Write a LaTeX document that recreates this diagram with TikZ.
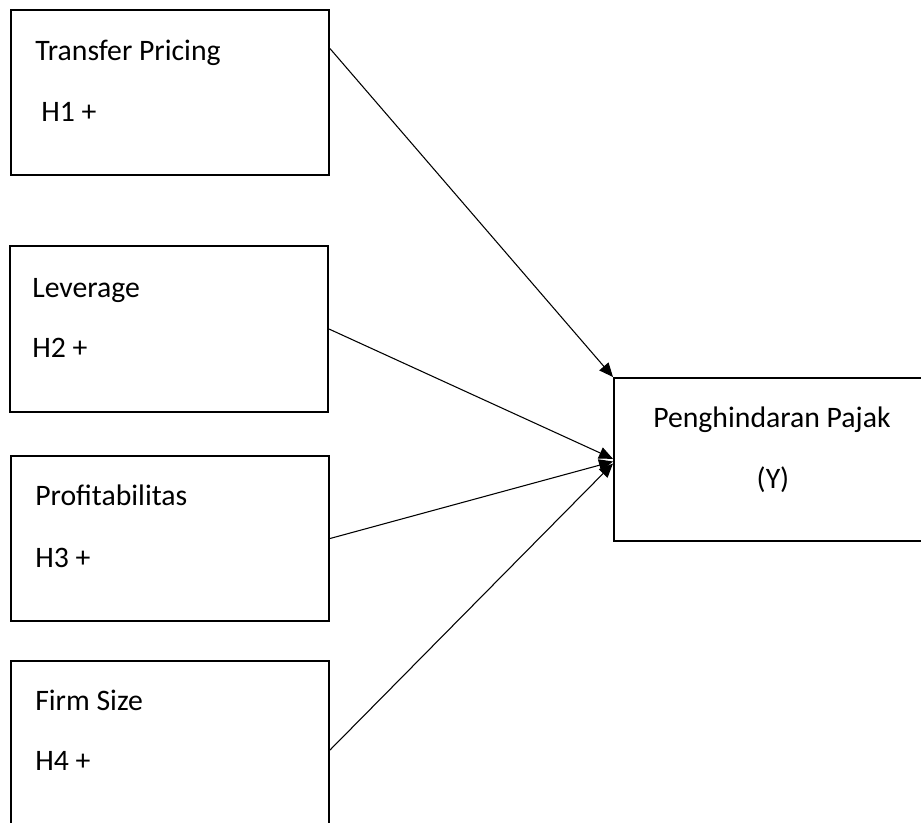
\documentclass[tikz,border=0pt]{standalone}
\usepackage{fontspec}
\setmainfont{Carlito}
\usetikzlibrary{arrows.meta,calc}
\tikzset{
  varbox/.style = {rectangle, draw=black, line width=1.5pt, inner sep=0pt,
    minimum width=238.5pt, minimum height=123.75pt},% kotak variabel
  lbl/.style = {anchor=base west, inner sep=0pt,
    font=\fontsize{22.3}{26}\selectfont},% teks di dalam kotak
  conn/.style = {-{Triangle[length=10.5pt,width=9pt]}, line width=0.8pt}% panah hipotesis
}
\begin{document}
\begin{tikzpicture}[x=0.75pt,y=-0.75pt]
\useasboundingbox (0,0) rectangle (921,822);
\clip (0,0) rectangle (921,822);
% variabel independen
\node [varbox] (tp) at (170,92) {};
\node [lbl] (tp-name) at (35,60) {Transfer Pricing};
\node [lbl] (tp-hyp) at (41,121) {H1 +};
\node [varbox, minimum height=124.5pt] (lev) at (169,329) {};
\node [lbl] (lev-name) at (32,297) {Leverage};
\node [lbl] (lev-hyp) at (32,357) {H2 +};
\node [varbox] (prof) at (170,538.5) {};
\node [lbl] (prof-name) at (35,505) {Profitabilitas};
\node [lbl] (prof-hyp) at (35,567) {H3 +};
\node [varbox, minimum height=133.5pt] (fs) at (170,750) {};
\node [lbl] (fs-name) at (35,710) {Firm Size};
\node [lbl] (fs-hyp) at (35,770) {H4 +};
% variabel dependen
\node [varbox, minimum width=237pt, minimum height=122.25pt] (pp) at (772,459.5) {};
\node [lbl] (pp-name) at (653,427) {Penghindaran Pajak};
\node [lbl, anchor=base] (pp-sym) at (773,488) {(Y)};
% hipotesis
\draw [conn] ($(tp.north east)!0.24!(tp.south east)$) -- (pp.north west);
\draw [conn] (lev.east) -- ([yshift=0.5pt]pp.west);
\draw [conn] (prof.east) -- ([yshift=-1.5pt]pp.west);
\draw [conn] (fs.east) -- ([yshift=-3pt]pp.west);
\end{tikzpicture}
\end{document}
